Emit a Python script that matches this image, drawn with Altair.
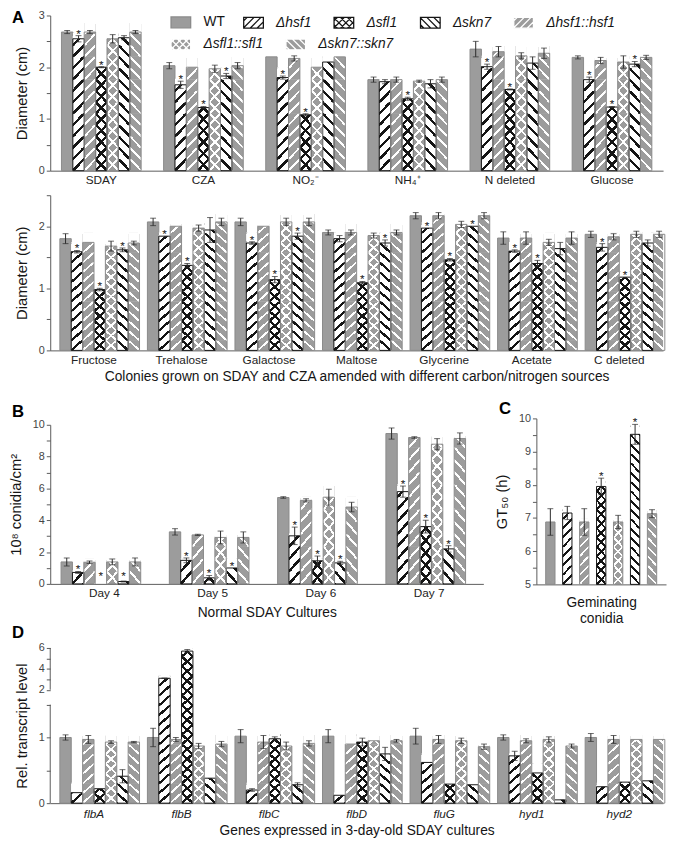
import math
import altair as alt
import pandas as pd

FONT = "Liberation Sans"
GREY = "#9c9c9c"
GREY_EDGE = "#8a8a8a"
INK = "#151515"
ERRC = "#2a2a2a"
AXIS_C = "#5a5a5a"

# bar order inside every group
STRAINS = ["WT", "Δhsf1", "Δhsf1::hsf1", "Δsfl1", "Δsfl1::sfl1", "Δskn7", "Δskn7::skn7"]
# legend rows as printed in the figure
LEGEND_WT = ["WT"]
LEGEND_ROW1 = ["Δhsf1", "Δsfl1", "Δskn7", "Δhsf1::hsf1"]
LEGEND_ROW2 = ["Δsfl1::sfl1", "Δskn7::skn7"]

# ---------------- Panel A (top): colony diameter (cm) ----------------
A1_CATS = ["SDAY", "CZA", "NO₂⁻", "NH₄⁺", "N deleted", "Glucose"]
A1_MEAN = [
    [2.68, 2.55, 2.68, 2.00, 2.55, 2.57, 2.68],
    [2.03, 1.66, 2.00, 1.22, 1.97, 1.83, 2.03],
    [2.20, 1.80, 2.17, 1.08, 2.00, 2.10, 2.20],
    [1.76, 1.72, 1.76, 1.39, 1.73, 1.68, 1.76],
    [2.35, 2.01, 2.30, 1.57, 2.22, 2.08, 2.27],
    [2.19, 1.76, 2.13, 1.23, 2.10, 2.06, 2.19],
]
A1_ERR = [
    [0.03, 0.06, 0.03, 0.01, 0.08, 0.04, 0.03],
    [0.06, 0.07, 0.00, 0.02, 0.07, 0.05, 0.06],
    [0.00, 0.03, 0.05, 0.02, 0.00, 0.00, 0.00],
    [0.05, 0.04, 0.05, 0.03, 0.02, 0.08, 0.05],
    [0.15, 0.05, 0.10, 0.01, 0.06, 0.12, 0.10],
    [0.03, 0.05, 0.06, 0.01, 0.12, 0.05, 0.04],
]
A1_STAR = [[1, 3], [1, 3, 5], [1, 3], [3], [1, 3], [1, 3, 5]]

# ---------------- Panel A (bottom) ----------------
A2_CATS = ["Fructose", "Trehalose", "Galactose", "Maltose", "Glycerine", "Acetate", "C deleted"]
A2_MEAN = [
    [1.80, 1.59, 1.74, 0.98, 1.68, 1.62, 1.73],
    [2.07, 1.84, 2.00, 1.37, 1.97, 1.94, 2.07],
    [2.07, 1.73, 2.00, 1.14, 2.07, 1.84, 2.07],
    [1.90, 1.80, 1.90, 1.09, 1.85, 1.73, 1.90],
    [2.17, 1.97, 2.17, 1.46, 2.03, 2.00, 2.17],
    [1.81, 1.60, 1.81, 1.40, 1.74, 1.64, 1.81],
    [1.87, 1.66, 1.83, 1.18, 1.87, 1.73, 1.87],
]
A2_ERR = [
    [0.08, 0.02, 0.00, 0.02, 0.08, 0.03, 0.03],
    [0.06, 0.00, 0.00, 0.03, 0.05, 0.20, 0.06],
    [0.06, 0.02, 0.00, 0.05, 0.06, 0.05, 0.06],
    [0.04, 0.05, 0.04, 0.02, 0.04, 0.05, 0.04],
    [0.05, 0.00, 0.05, 0.02, 0.05, 0.00, 0.05],
    [0.10, 0.02, 0.10, 0.05, 0.05, 0.10, 0.10],
    [0.05, 0.06, 0.05, 0.00, 0.05, 0.05, 0.05],
]
A2_STAR = [[1, 3, 5], [1, 3], [1, 3, 5], [3, 5], [1, 3, 5], [1, 3], [1, 3]]

# ---------------- Panel B: conidial yield ----------------
B_CATS = ["Day 4", "Day 5", "Day 6", "Day 7"]
B_MEAN = [
    [1.38, 0.72, 1.36, 0.00, 1.38, 0.15, 1.38],
    [3.27, 1.48, 3.08, 0.38, 2.92, 1.00, 2.92],
    [5.43, 3.02, 5.25, 1.45, 5.45, 1.32, 4.83],
    [9.45, 5.80, 9.20, 3.60, 8.78, 2.20, 9.14],
]
B_ERR = [
    [0.25, 0.06, 0.08, 0.00, 0.18, 0.03, 0.25],
    [0.20, 0.15, 0.04, 0.15, 0.40, 0.00, 0.35],
    [0.05, 0.55, 0.10, 0.30, 0.50, 0.10, 0.30],
    [0.35, 0.35, 0.05, 0.40, 0.35, 0.20, 0.35],
]
B_STAR = [[1, 3, 5], [1, 3, 5], [1, 3, 5], [1, 3, 5]]

# ---------------- Panel C: GT50 (h) ----------------
C_CATS = ["GT50"]
C_MEAN = [[6.88, 7.15, 6.88, 7.95, 6.88, 9.52, 7.13]]
C_ERR = [[0.40, 0.20, 0.40, 0.25, 0.20, 0.30, 0.12]]
C_STAR = [[3, 5]]

# ---------------- Panel D: relative transcript level ----------------
D_CATS = ["flbA", "flbB", "flbC", "flbD", "fluG", "hyd1", "hyd2"]
D_MEAN = [
    [1.00, 0.16, 0.97, 0.22, 0.93, 0.41, 0.93],
    [1.00, 3.10, 0.97, 5.70, 0.87, 0.38, 0.90],
    [1.02, 0.20, 0.93, 0.98, 0.87, 0.28, 0.91],
    [1.02, 0.12, 0.90, 0.93, 0.95, 0.75, 0.95],
    [1.02, 0.62, 0.97, 0.29, 0.95, 0.28, 0.86],
    [1.00, 0.72, 0.95, 0.46, 0.97, 0.05, 0.87],
    [1.00, 0.25, 0.97, 0.32, 0.97, 0.34, 0.97],
]
D_ERR = [
    [0.04, 0.00, 0.06, 0.00, 0.02, 0.10, 0.01],
    [0.14, 0.02, 0.03, 0.15, 0.04, 0.00, 0.04],
    [0.10, 0.02, 0.10, 0.03, 0.06, 0.03, 0.04],
    [0.10, 0.00, 0.00, 0.06, 0.00, 0.10, 0.02],
    [0.12, 0.00, 0.06, 0.00, 0.04, 0.00, 0.04],
    [0.04, 0.07, 0.03, 0.00, 0.04, 0.00, 0.03],
    [0.06, 0.00, 0.06, 0.00, 0.00, 0.00, 0.00],
]
D_STAR = [[], [], [], [], [], [], []]
# broken y axis of panel D
D_BREAK_LOW = 1.5
D_UPPER_FROM = 2.0
D_UPPER_POS = 1.727
D_UPPER_RATE = 0.159
D_TICKS = [(0, "0"), (0.5, ""), (1, "1"), (1.5, ""), (2, "2"), (3, ""), (4, "4"), (5, ""), (6, "6")]


def d_disp(v):
    return v if v <= D_BREAK_LOW else D_UPPER_POS + (v - D_UPPER_FROM) * D_UPPER_RATE


STYLE = {
    "WT": (GREY, []),
    "Δhsf1": ("white", [("/", INK)]),
    "Δhsf1::hsf1": (GREY, [("/", "white")]),
    "Δsfl1": ("white", [("/", INK), ("\\", INK)]),
    "Δsfl1::sfl1": (GREY, [("/", "white"), ("\\", "white")]),
    "Δskn7": ("white", [("\\", INK)]),
    "Δskn7::skn7": (GREY, [("\\", "white")]),
}
EDGE = {s: (INK if STYLE[s][0] == "white" else GREY_EDGE) for s in STRAINS}


def stripes(direction, line, bg, half):
    if direction == "/":
        x1, y1, x2, y2 = 0, 0, 1, 1
    else:
        x1, y1, x2, y2 = 0, 1, 1, 0
    pts = [(0, line), (half, line), (half, bg), (0.5 - half, bg), (0.5 - half, line),
           (0.5 + half, line), (0.5 + half, bg), (1 - half, bg), (1 - half, line), (1, line)]
    return alt.LinearGradient(gradient="linear", x1=x1, y1=y1, x2=x2, y2=y2,
                              stops=[alt.GradientStop(offset=o, color=c) for o, c in pts])


def make_df(cats, means, errs, stars, tf=lambda v: v, base=0.0, star_floor=0.0):
    rows = []
    for ci, cat in enumerate(cats):
        for si, s in enumerate(STRAINS):
            v, e = means[ci][si], errs[ci][si]
            hi = tf(v + e)
            rows.append({"cat": cat, "strain": s, "value": v, "err": e,
                         "disp": tf(v), "lo": tf(max(v - e, base)), "hi": hi,
                         "star_y": max(hi, base + star_floor),
                         "base": base, "star": si in stars[ci]})
    return pd.DataFrame(rows)


def hatch_frames(df, seg, eps):
    segs, covers = [], []
    for r in df.itertuples():
        if r.strain == "WT":
            continue
        h = r.disp - r.base
        if h <= 1e-9:
            continue
        n = math.ceil(h / seg - 1e-6)
        for k in range(n):
            segs.append({"cat": r.cat, "strain": r.strain,
                         "y0": r.base + k * seg, "y1": r.base + (k + 1) * seg + eps})
        covers.append({"cat": r.cat, "strain": r.strain,
                       "y0": r.disp, "y1": r.base + n * seg + 2 * eps})
    return pd.DataFrame(segs), pd.DataFrame(covers)


def panel(df, cats, width, height, ydom, yaxis, xaxis, xpad, opad, extra=(), single=False):
    pi, po = xpad
    opi, opo = opad
    if single:
        step = width / (len(STRAINS) - opi + 2 * opo)
        bar_w = step * (1 - opi)
        pos = {"x": alt.X("strain:N", scale=alt.Scale(domain=STRAINS, paddingInner=opi,
                                                      paddingOuter=opo), axis=xaxis)}
    else:
        step = width / (len(cats) - pi + 2 * po)
        ostep = step * (1 - pi) / (len(STRAINS) - opi + 2 * opo)
        bar_w = ostep * (1 - opi)
        pos = {"x": alt.X("cat:N", scale=alt.Scale(domain=cats, paddingInner=pi, paddingOuter=po),
                          axis=xaxis),
               "xOffset": alt.XOffset("strain:N", scale=alt.Scale(domain=STRAINS, paddingInner=opi,
                                                                  paddingOuter=opo))}
    ppu = height / (ydom[1] - ydom[0])
    seg = bar_w / ppu
    eps = 0.5 / ppu
    segs, covers = hatch_frames(df, seg, eps)

    def Y(field):
        return alt.Y(f"{field}:Q", scale=alt.Scale(domain=ydom, zero=False, nice=False), axis=yaxis)

    layers = list(extra)
    layers.append(alt.Chart(df).transform_filter(alt.datum.strain == "WT").mark_bar(
        fill=GREY, stroke=GREY_EDGE, strokeWidth=1).encode(y=Y("disp"), y2="base:Q", **pos))
    for s in STRAINS[1:]:
        bg, lines = STYLE[s]
        for i, (d, col) in enumerate(lines):
            g = stripes(d, col, bg if i == 0 else "rgba(0,0,0,0)", 0.075 if col == INK else 0.06)
            layers.append(alt.Chart(segs).transform_filter(alt.datum.strain == s).mark_bar(
                fill=g, clip=True).encode(y=Y("y0"), y2="y1:Q", **pos))
    layers.append(alt.Chart(covers).mark_bar(fill="white", clip=True).encode(
        y=Y("y0"), y2="y1:Q", **pos))
    for col in [INK, GREY_EDGE]:
        group = [s for s in STRAINS[1:] if EDGE[s] == col]
        layers.append(alt.Chart(df).transform_filter(
            alt.FieldOneOfPredicate(field="strain", oneOf=group)).transform_filter(
            "datum.disp > datum.base").mark_bar(
            fillOpacity=0, stroke=col, strokeWidth=1).encode(y=Y("disp"), y2="base:Q", **pos))
    errs = alt.Chart(df).transform_filter("datum.err > 0")
    layers.append(errs.mark_rule(color=ERRC, strokeWidth=1).encode(y=Y("lo"), y2="hi:Q", **pos))
    layers.append(errs.mark_tick(color=ERRC, thickness=1, size=6).encode(y=Y("hi"), **pos))
    layers.append(errs.mark_tick(color=ERRC, thickness=1, size=6).encode(y=Y("lo"), **pos))
    layers.append(alt.Chart(df).transform_filter("datum.star").mark_text(
        text="*", fontSize=12, fill=INK, dy=2, baseline="alphabetic", font=FONT).encode(
        y=Y("star_y"), **pos))
    return layers


def letter(t, dx, dy):
    return alt.TitleParams(text=t, anchor="start", frame="group", dx=dx, dy=dy, offset=0,
                           fontSize=17, fontWeight="bold", font=FONT, color="black",
                           baseline="alphabetic")


def xaxis(title, italic=False, labels=True, title_pad=5, label_pad=4):
    kw = dict(ticks=False, labelAngle=0, labelFontSize=12, labelColor="#222", labelPadding=label_pad,
              titleFontSize=14, titlePadding=title_pad, titleFontWeight="normal", titleColor=INK,
              labels=labels)
    if italic:
        kw["labelFontStyle"] = "italic"
    if title is None:
        return alt.Axis(title=None, **kw)
    return alt.Axis(title=title, **kw)


def yaxis(title, values, expr, domain=True):
    return alt.Axis(title=title, values=values, labelExpr=expr, tickSize=4, labelFontSize=11,
                    labelColor="#444", titleFontSize=15, titleFontWeight="normal", titleColor=INK,
                    titlePadding=9, labelPadding=2, domain=domain)


INT_EXPR = "datum.value % 1 === 0 ? '' + datum.value : ''"
EVEN_EXPR = "datum.value % 2 === 0 ? '' + datum.value : ''"


# ---------------- legend (hatched swatches as custom symbol paths) ----------------
def swatch_path(lines):
    W, H = 1.0, 0.55
    p = f"M{-W},{-H}H{W}V{H}H{-W}Z"
    sp = 0.7
    for d in lines:
        c = -(W + H) + sp / 2
        while c < W + H:
            xa, xb = max(-W, c - H), min(W, c + H)
            if xb - xa > 0.05:
                if d == "/":
                    p += f"M{xa:.3f},{c - xa:.3f}L{xb:.3f},{c - xb:.3f}"
                else:
                    p += f"M{xa:.3f},{xa - c:.3f}L{xb:.3f},{xb - c:.3f}"
            c += sp
    return p


def legend_layer(strains, field, lx, ly, style):
    leg = alt.Legend(title=None, orient="none", legendX=lx, legendY=ly, direction="horizontal",
                     columns=len(strains), columnPadding=20, labelOffset=12,
                     symbolSize=400, symbolStrokeWidth=1.3, labelFontSize=14, labelFontStyle=style,
                     labelColor=INK, labelFont=FONT, labelLimit=0)
    paths = [swatch_path([d for d, _ in STYLE[s][1]]) for s in strains]
    fills = [STYLE[s][0] for s in strains]
    strokes = [(STYLE[s][1][0][1] if STYLE[s][1] else GREY_EDGE) for s in strains]
    return alt.Chart(pd.DataFrame({field: strains})).mark_point(
        filled=True, opacity=1, clip=True).encode(
        x=alt.value(-300), y=alt.value(-300),
        shape=alt.Shape(f"{field}:N", scale=alt.Scale(domain=strains, range=paths), legend=leg),
        fill=alt.Fill(f"{field}:N", scale=alt.Scale(domain=strains, range=fills), legend=leg),
        stroke=alt.Stroke(f"{field}:N", scale=alt.Scale(domain=strains, range=strokes), legend=leg),
    )


legend_layers = [
    legend_layer(LEGEND_WT, "key_wt", 122, -4, "normal"),
    legend_layer(LEGEND_ROW1, "key_row1", 196, -4, "italic"),
    legend_layer(LEGEND_ROW2, "key_row2", 122, 18, "italic"),
]

# ---------------- build panels ----------------
W_WIDE = 624
a1_df = make_df(A1_CATS, A1_MEAN, A1_ERR, A1_STAR)
a1_layers = panel(a1_df, A1_CATS, W_WIDE, 158, [0, 3],
                  yaxis("Diameter (cm)", [0, 0.5, 1, 1.5, 2, 2.5, 3], INT_EXPR),
                  xaxis(None), (0.22, 0.11), (0, 0), extra=legend_layers)
a1 = alt.layer(*a1_layers).properties(width=W_WIDE, height=158, title=letter("A", -39, 31)).resolve_scale(
    shape="independent", fill="independent", stroke="independent")

a2_df = make_df(A2_CATS, A2_MEAN, A2_ERR, A2_STAR)
a2_layers = panel(a2_df, A2_CATS, W_WIDE, 158, [0, 2.5],
                  yaxis("Diameter (cm)", [0, 0.5, 1, 1.5, 2, 2.5], INT_EXPR),
                  xaxis("Colonies grown on SDAY and CZA amended with different carbon/nitrogen sources"),
                  (0.22, 0.11), (0, 0))
a2 = alt.layer(*a2_layers).properties(width=W_WIDE, height=158)

b_df = make_df(B_CATS, B_MEAN, B_ERR, B_STAR, star_floor=0.35)
b_layers = panel(b_df, B_CATS, 441, 162, [0, 10],
                 yaxis("10⁸ conidia/cm²", list(range(0, 11)), EVEN_EXPR),
                 xaxis("Normal SDAY Cultures", title_pad=7), (0.2, 0.1), (0, 0))
b = alt.layer(*b_layers).properties(width=441, height=162, title=letter("B", -39, 15))

c_df = make_df(C_CATS, C_MEAN, C_ERR, C_STAR, base=5.0)
c_layers = panel(c_df, C_CATS, 132, 169, [5, 10],
                 yaxis("GT₅₀ (h)", [5, 5.5, 6, 6.5, 7, 7.5, 8, 8.5, 9, 9.5, 10], INT_EXPR),
                 xaxis(["Geminating", "conidia"], labels=False, title_pad=12), (0, 0), (0.45, 0.55),
                 single=True)
c = alt.layer(*c_layers).properties(width=132, height=169, title=letter("C", -38, 19))

d_df = make_df(D_CATS, D_MEAN, D_ERR, D_STAR, tf=d_disp)
d_vals = [d_disp(v) for v, _ in D_TICKS]
d_expr = "''"
for v, lab in D_TICKS:
    if lab:
        d_expr = f"abs(datum.value - {d_disp(v):.4f}) < 0.005 ? '{lab}' : ({d_expr})"
d_yaxis = yaxis("Rel. transcript level", d_vals, d_expr, domain=False)
d_dom = pd.DataFrame({"y0": [0, d_disp(D_UPPER_FROM)], "y1": [D_BREAK_LOW, d_disp(6)]})
d_top = d_disp(6)
d_domain_layer = alt.Chart(d_dom).mark_rule(color=AXIS_C, strokeWidth=1).encode(
    x=alt.value(0),
    y=alt.Y("y0:Q", scale=alt.Scale(domain=[0, d_top], zero=False, nice=False), axis=d_yaxis),
    y2="y1:Q")
d_layers = panel(d_df, D_CATS, W_WIDE, 158, [0, d_top], d_yaxis,
                 xaxis("Genes expressed in 3-day-old SDAY cultures", italic=True, label_pad=6,
                       title_pad=4),
                 (0.22, 0.11), (0, 0), extra=[d_domain_layer])
d = alt.layer(*d_layers).properties(width=W_WIDE, height=158, title=letter("D", -39, 13))

top = alt.vconcat(
    alt.vconcat(
        alt.vconcat(a1, a2, spacing=8),
        alt.hconcat(b, c, spacing=10, center=True),
        spacing=15),
    d, spacing=-3)

chart = top.properties(padding={"left": 0, "top": -7, "right": 0, "bottom": 0}).configure_view(
    stroke="transparent").configure_axis(
    labelFont=FONT, titleFont=FONT, grid=False, domainColor=AXIS_C, tickColor=AXIS_C).configure_legend(
    labelFont=FONT).configure_title(font=FONT)

chart.save("out.html", embed_options={"renderer": "svg", "actions": False})
